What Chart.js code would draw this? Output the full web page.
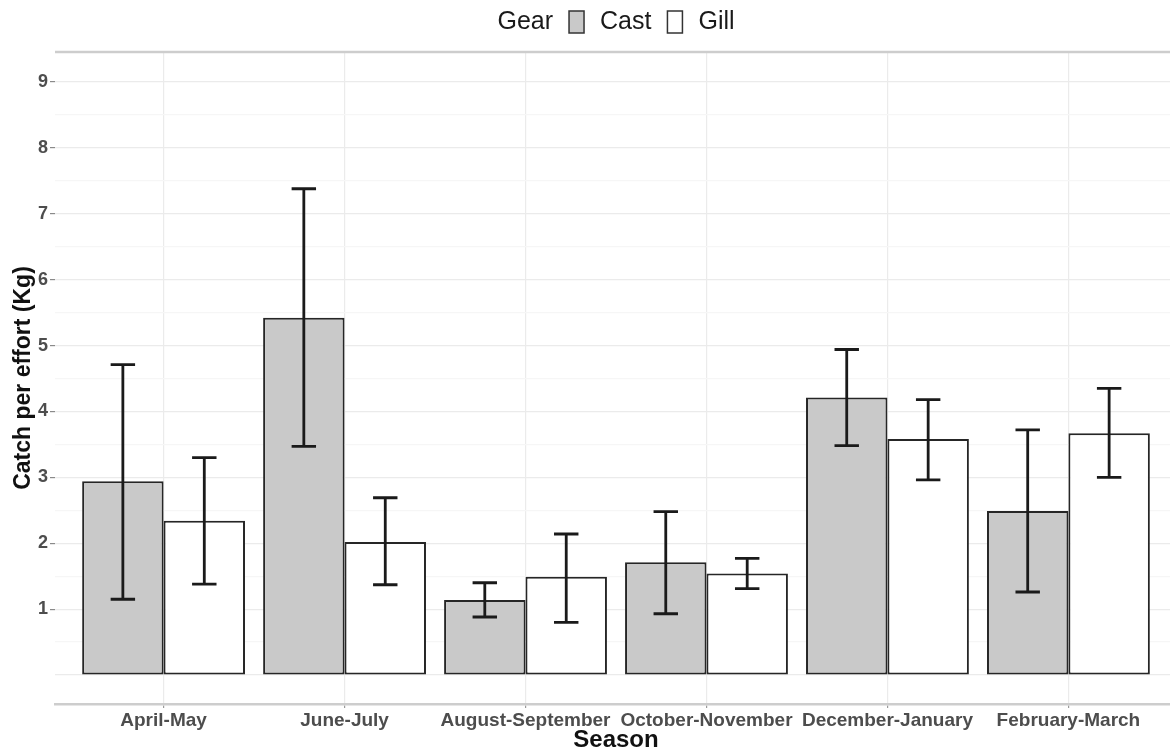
<!DOCTYPE html>
<html lang="en">
<head>
<meta charset="UTF-8" />
<title>Catch per effort by season</title>
<script src="https://cdn.jsdelivr.net/npm/chart.js"></script>
<style>
    html, body { margin: 0; padding: 0; background: #fff; overflow: hidden; }
    .wrap { width: 1170px; height: 755px; overflow: hidden; }
</style>
</head>
<body>
<div class="wrap"><canvas id="barChart" width="1177" height="755"></canvas></div>

<script>
    const seasons = ['April-May', 'June-July', 'August-September', 'October-November', 'December-January', 'February-March'];

    const castMean = [2.94, 5.42, 1.14, 1.71, 4.21, 2.49];
    const castLow  = [1.15, 3.47, 0.88, 0.93, 3.48, 1.26];
    const castHigh = [4.71, 7.38, 1.40, 2.48, 4.94, 3.72];

    const gillMean = [2.34, 2.02, 1.49, 1.54, 3.58, 3.67];
    const gillLow  = [1.38, 1.37, 0.80, 1.31, 2.96, 3.00];
    const gillHigh = [3.30, 2.69, 2.14, 1.77, 4.18, 4.35];

    const yTickLabels = [1, 2, 3, 4, 5, 6, 7, 8, 9];
    const yGridValues = [0, 0.5, 1, 1.5, 2, 2.5, 3, 3.5, 4, 4.5, 5, 5.5, 6, 6.5, 7, 7.5, 8, 8.5, 9];

    const FONT = '"Liberation Sans", Arial, Helvetica, sans-serif';
    const errLow = [castLow, gillLow];
    const errHigh = [castHigh, gillHigh];

    // error bars drawn over the bars
    const errorBars = {
        id: 'errorBars',
        afterDatasetsDraw(chart) {
            const ctx = chart.ctx;
            const yScale = chart.scales.y;
            ctx.save();
            ctx.strokeStyle = '#1a1a1a';
            ctx.lineWidth = 2.8;
            chart.data.datasets.forEach((ds, d) => {
                chart.getDatasetMeta(d).data.forEach((bar, i) => {
                    const yHi = yScale.getPixelForValue(errHigh[d][i]);
                    const yLo = yScale.getPixelForValue(errLow[d][i]);
                    const half = bar.width * 0.15;
                    ctx.beginPath();
                    ctx.moveTo(bar.x, yHi);
                    ctx.lineTo(bar.x, yLo);
                    ctx.moveTo(bar.x - half, yHi);
                    ctx.lineTo(bar.x + half, yHi);
                    ctx.moveTo(bar.x - half, yLo);
                    ctx.lineTo(bar.x + half, yLo);
                    ctx.stroke();
                });
            });
            ctx.restore();
        }
    };

    // grey line along the top of the panel
    const topLine = {
        id: 'topLine',
        beforeDatasetsDraw(chart) {
            const {ctx, chartArea} = chart;
            ctx.save();
            ctx.strokeStyle = '#cdcdcd';
            ctx.lineWidth = 2.5;
            ctx.beginPath();
            ctx.moveTo(chartArea.left, chartArea.top);
            ctx.lineTo(chartArea.right, chartArea.top);
            ctx.stroke();
            ctx.restore();
        }
    };

    // "Gear [] Cast [] Gill" legend on one line
    const gearLegend = {
        id: 'gearLegend',
        afterDraw(chart) {
            const {ctx, chartArea} = chart;
            const gap = 16, boxW = 15, boxH = 22, y = 22;
            const parts = [
                {text: 'Gear'},
                {box: chart.data.datasets[0].backgroundColor},
                {text: chart.data.datasets[0].label},
                {box: chart.data.datasets[1].backgroundColor},
                {text: chart.data.datasets[1].label}
            ];
            ctx.save();
            ctx.font = '25px ' + FONT;
            ctx.textBaseline = 'middle';
            parts.forEach(p => { p.w = p.text ? ctx.measureText(p.text).width : boxW; });
            const total = parts.reduce((s, p) => s + p.w, 0) + gap * (parts.length - 1);
            let x = (chartArea.left + chartArea.right) / 2 - total / 2;
            parts.forEach(p => {
                if (p.text) {
                    ctx.fillStyle = '#1a1a1a';
                    ctx.fillText(p.text, x, y);
                } else {
                    ctx.fillStyle = p.box;
                    ctx.fillRect(x, y - boxH / 2, boxW, boxH);
                    ctx.strokeStyle = '#333';
                    ctx.lineWidth = 1.5;
                    ctx.strokeRect(x, y - boxH / 2, boxW, boxH);
                }
                x += p.w + gap;
            });
            ctx.restore();
        }
    };

    const ctx = document.getElementById('barChart');

    const chart = new Chart(ctx, {
        type: 'bar',
        data: {
            datasets: [{
                label: 'Cast',
                data: castMean.map((v, i) => ({x: i, y: v})),
                backgroundColor: '#c9c9c9',
                borderColor: '#262626',
                borderWidth: 2,
                borderSkipped: false
            }, {
                label: 'Gill',
                data: gillMean.map((v, i) => ({x: i, y: v})),
                backgroundColor: '#ffffff',
                borderColor: '#262626',
                borderWidth: 2,
                borderSkipped: false
            }]
        },
        options: {
            responsive: false,
            animation: false,
            layout: {
                padding: {top: 52, left: 0, right: 0, bottom: 0}
            },
            datasets: {
                bar: {
                    categoryPercentage: 0.9,
                    barPercentage: 1
                }
            },
            plugins: {
                legend: {display: false},
                tooltip: {enabled: false}
            },
            scales: {
                x: {
                    type: 'linear',
                    min: -0.6,
                    max: 5.6,
                    offset: false,
                    afterBuildTicks: scale => {
                        scale.ticks = seasons.map((s, i) => ({value: i}));
                    },
                    afterFit: scale => {
                        scale.height = 51;
                    },
                    ticks: {
                        callback: v => seasons[v],
                        autoSkip: false,
                        maxRotation: 0,
                        padding: 1,
                        color: '#4d4d4d',
                        font: {family: FONT, size: 19, weight: 'bold'}
                    },
                    grid: {
                        offset: false,
                        color: '#ebebeb',
                        lineWidth: 1.2,
                        tickLength: 4,
                        tickColor: '#9a9a9a'
                    },
                    border: {
                        display: true,
                        color: '#cdcdcd',
                        width: 2.5
                    },
                    title: {
                        display: true,
                        text: 'Season',
                        color: '#111',
                        font: {family: FONT, size: 24, weight: 'bold'},
                        padding: {top: 0, bottom: 0}
                    }
                },
                y: {
                    min: -0.44,
                    max: 9.455,
                    afterBuildTicks: scale => {
                        scale.ticks = yGridValues.map(v => ({value: v}));
                    },
                    afterFit: scale => {
                        scale.width = 55;
                    },
                    ticks: {
                        callback: v => yTickLabels.includes(v) ? String(v) : '',
                        padding: 2,
                        color: '#4d4d4d',
                        font: {family: FONT, size: 18, weight: 'bold'}
                    },
                    grid: {
                        color: c => Number.isInteger(c.tick.value) ? '#ebebeb' : '#f6f6f6',
                        lineWidth: 1.2,
                        tickLength: 5,
                        tickColor: c => yTickLabels.includes(c.tick.value) ? '#8a8a8a' : 'rgba(0,0,0,0)'
                    },
                    border: {display: false},
                    title: {
                        display: true,
                        text: 'Catch per effort (Kg)',
                        color: '#111',
                        font: {family: FONT, size: 23, weight: 'bold'},
                        padding: {top: 10, bottom: 0}
                    }
                }
            }
        },
        plugins: [topLine, errorBars, gearLegend]
    });
</script>
</body>
</html>
